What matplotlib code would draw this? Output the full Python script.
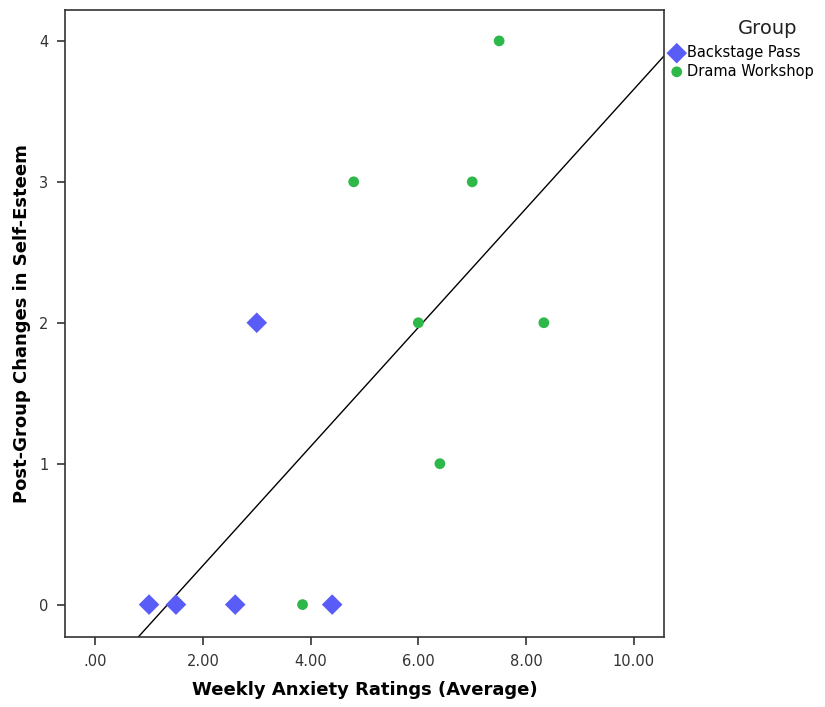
import numpy as np
import matplotlib.pyplot as plt

plt.rcParams["font.family"] = ["DejaVu Sans"]

# Backstage Pass group
bp_x = [1.0, 1.5, 2.6, 3.0, 4.4]
bp_y = [0, 0, 0, 2, 0]
# Drama Workshop group
dw_x = [3.85, 4.8, 6.0, 6.4, 7.0, 7.5, 8.33]
dw_y = [0, 3, 2, 1, 3, 4, 2]

xticks = [0, 2, 4, 6, 8, 10]
xticklabels = [".00", "2.00", "4.00", "6.00", "8.00", "10.00"]
yticks = [0, 1, 2, 3, 4]

# total-sample linear fit
all_x = np.array(bp_x + dw_x)
all_y = np.array(bp_y + dw_y)
slope, icept = np.polyfit(all_x, all_y, 1)

fig = plt.figure(figsize=(8.25, 7.07), dpi=100)
ax = fig.add_axes([0.0788, 0.099, 0.726, 0.887])

xlim = (-0.56, 10.56)
ylim = (-0.23, 4.22)
xs = np.array(xlim)
ax.plot(xs, icept + slope * xs, color="black", lw=1.0, zorder=1)

ax.scatter(bp_x, bp_y, marker="D", s=110, color="#5a5cf8", edgecolors="none",
           label="Backstage Pass", zorder=3)
ax.scatter(dw_x, dw_y, marker="o", s=60, color="#2fb84a", edgecolors="none",
           label="Drama Workshop", zorder=3)

ax.set_xlim(xlim)
ax.set_ylim(ylim)
ax.set_xticks(xticks)
ax.set_xticklabels(xticklabels)
ax.set_yticks(yticks)
ax.tick_params(labelsize=10.5, colors="#333333", length=6, width=1.2, pad=6)
for s in ax.spines.values():
    s.set_linewidth(1.2)
    s.set_color("#333333")

ax.set_xlabel("Weekly Anxiety Ratings (Average)", fontsize=13, fontweight="bold",
              labelpad=9)
ax.set_ylabel("Post-Group Changes in Self-Esteem", fontsize=13, fontweight="bold",
              labelpad=6)

fig.text(768 / 825, 1 - 28 / 707, "Group", ha="center", va="center",
         fontsize=14, color="#222222")
ax.legend(loc="upper left", bbox_to_anchor=(668 / 825, 1 - 45 / 707),
          bbox_transform=fig.transFigure, frameon=False, fontsize=10.5,
          handletextpad=0.1, borderaxespad=0, borderpad=0, handlelength=1.2,
          labelspacing=0.25)

fig.savefig("out.png", dpi=100)
